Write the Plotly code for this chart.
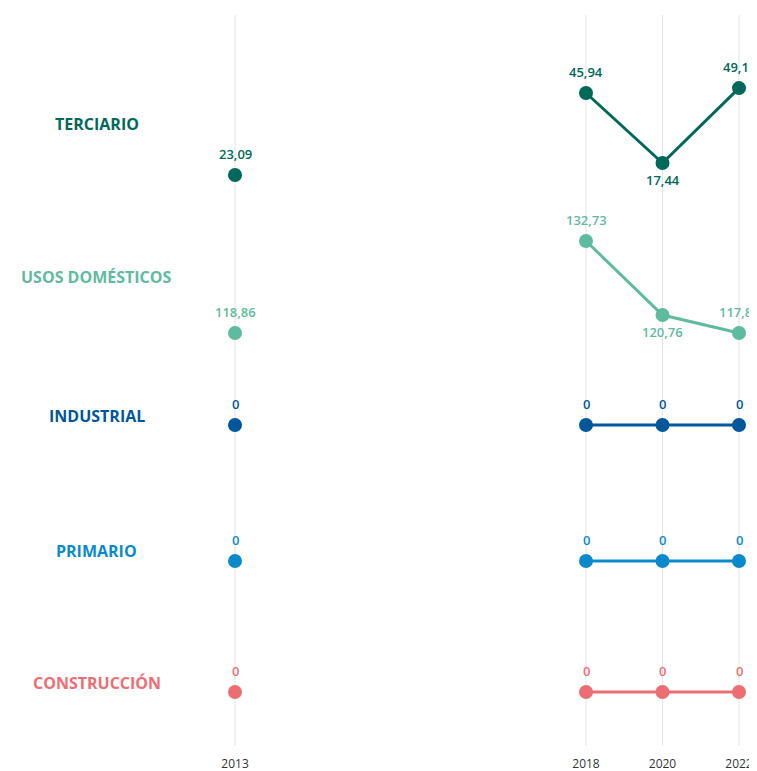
import math
import plotly.graph_objects as go

# --- data -------------------------------------------------------------
years_old = [2013]
years_recent = [2018, 2020, 2022]
tick_years = [2013, 2018, 2020, 2022]

sectors = ["TERCIARIO", "USOS DOMÉSTICOS", "INDUSTRIAL", "PRIMARIO", "CONSTRUCCIÓN"]
values_2013 = [23.09, 118.86, 0, 0, 0]
terciario = [45.94, 17.44, 49.17]
usos_domesticos = [132.73, 120.76, 117.86]
industrial = [0, 0, 0]
primario = [0, 0, 0]
construccion = [0, 0, 0]
recent = [terciario, usos_domesticos, industrial, primario, construccion]

colors = ["#00695a", "#5fbb9f", "#00579b", "#0a8acb", "#ec6e73"]
# label above (1) or below (-1) each 2018-2022 point
label_side = [[1, -1, 1], [1, -1, 1], [1, 1, 1], [1, 1, 1], [1, 1, 1]]

# y axes: (left 2013 axis, right 2018-2022 axis) per sector
y_axes = [("y", "y2"), ("y3", "y4"), ("y5", "y5"), ("y6", "y6"), ("y7", "y7")]
log_axes = {"y2"}
label_y = [0.852, 0.645, 0.457, 0.274, 0.095]

FONT = "Open Sans"


def fmt(v):
    return "0" if v == 0 else f"{v:.2f}".replace(".", ",")


def value_label(x, y, xref, yref, color, side):
    # annotations on a log axis take log10 positions
    ypos = math.log10(y) if yref in log_axes else y
    fig.add_annotation(
        x=x, y=ypos, xref=xref, yref=yref, text=fmt(y), showarrow=False,
        yshift=21 if side > 0 else -17,
        font=dict(color=color, size=13, family=FONT, weight=600),
    )


fig = go.Figure()

# vertical guide lines behind everything
for yr in tick_years:
    fig.add_shape(
        type="line", xref="x" if yr == 2013 else "x2", yref="paper",
        x0=yr, x1=yr, y0=0.01, y1=1, layer="below",
        line=dict(color="#e3e3e3", width=1),
    )

for i, name in enumerate(sectors):
    ya_left, ya_right = y_axes[i]
    fig.add_trace(go.Scatter(
        x=years_old, y=[values_2013[i]], xaxis="x", yaxis=ya_left,
        mode="markers", marker=dict(color=colors[i], size=14),
        cliponaxis=False, showlegend=False, hoverinfo="skip",
    ))
    value_label(years_old[0], values_2013[i], "x", ya_left, colors[i], 1)

    fig.add_trace(go.Scatter(
        x=years_recent, y=recent[i], xaxis="x2", yaxis=ya_right,
        mode="lines+markers",
        line=dict(color=colors[i], width=3),
        marker=dict(color=colors[i], size=14),
        cliponaxis=False, showlegend=False, hoverinfo="skip",
    ))
    for yr, v, s in zip(years_recent, recent[i], label_side[i]):
        value_label(yr, v, "x2", ya_right, colors[i], s)

    fig.add_annotation(
        text=f"<b>{name}</b>", x=0.1188, y=label_y[i], xref="paper", yref="paper",
        showarrow=False, xanchor="center", yanchor="middle",
        font=dict(color=colors[i], size=16, family=FONT),
    )

xcommon = dict(
    tickvals=tick_years, ticktext=[str(y) for y in tick_years],
    showgrid=False, zeroline=False, showline=False, ticks="",
    ticklabelstandoff=2, automargin=False,
    tickfont=dict(size=12, color="#333333", family=FONT),
)
hidden = dict(visible=False, domain=[0, 1], showgrid=False, zeroline=False)

fig.update_layout(
    width=749, height=763,
    margin=dict(l=0, r=0, t=7, b=18),
    plot_bgcolor="rgba(0,0,0,0)", paper_bgcolor="white",
    xaxis=dict(**xcommon, domain=[0.2497, 0.3565], range=[2012, 2014], anchor="y"),
    xaxis2=dict(**xcommon, domain=[0.74616, 0.9964], range=[2017.5, 2022.4], anchor="y2"),
    yaxis=dict(**hidden, range=[-55.23, 44.77], anchor="x"),
    yaxis2=dict(**hidden, type="log", range=[-2.3039, 2.1309], anchor="x2"),
    yaxis3=dict(**hidden, range=[61.95, 161.95], anchor="x"),
    yaxis4=dict(**hidden, range=[49.91, 169.29], anchor="x2"),
    yaxis5=dict(**hidden, range=[-0.4444, 0.5556], anchor="x"),
    yaxis6=dict(**hidden, range=[-0.2602, 0.7398], anchor="x"),
    yaxis7=dict(**hidden, range=[-0.0827, 0.9173], anchor="x"),
)

fig.write_html("out.html")
